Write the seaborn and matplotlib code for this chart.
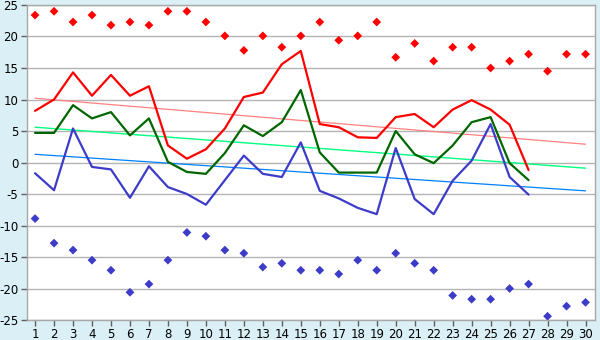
import numpy as np
import pandas as pd
import matplotlib
matplotlib.use("Agg")
import matplotlib.pyplot as plt
import seaborn as sns

# Daily temperatures (°C) for the month
days = list(range(1, 28))
t_max = [8.2, 10.0, 14.3, 10.6, 13.9, 10.6, 12.1, 2.7, 0.6, 2.1, 5.4, 10.4, 11.1, 15.6,
         17.7, 6.1, 5.6, 4.0, 3.9, 7.2, 7.7, 5.6, 8.4, 9.9, 8.4, 6.0, -1.2]
t_mean = [4.7, 4.7, 9.1, 7.0, 8.0, 4.3, 7.0, 0.1, -1.5, -1.8, 1.5, 5.9, 4.2, 6.4,
          11.5, 1.6, -1.6, -1.6, -1.6, 5.0, 1.3, -0.1, 2.7, 6.4, 7.2, -0.1, -2.8]
t_min = [-1.7, -4.4, 5.4, -0.7, -1.1, -5.6, -0.6, -3.9, -5.0, -6.7, -2.8, 1.1, -1.8, -2.3,
         3.2, -4.5, -5.7, -7.2, -8.2, 2.3, -5.8, -8.2, -2.9, 0.3, 6.1, -2.3, -5.1]

# Record extremes for each calendar day
rec_days = list(range(1, 31))
rec_max = [23.4, 24.0, 22.3, 23.4, 21.8, 22.3, 21.8, 24.0, 24.0, 22.3, 20.1, 17.8, 20.1, 18.3, 20.1,
           22.3, 19.4, 20.1, 22.3, 16.7, 18.9, 16.1, 18.3, 18.3, 15.0, 16.1, 17.2, 14.5, 17.2, 17.2]
rec_min = [-8.9, -12.8, -13.9, -15.5, -17.1, -20.6, -19.3, -15.5, -11.1, -11.7, -13.9, -14.4, -16.6, -16.0, -17.1,
           -17.1, -17.7, -15.5, -17.1, -14.4, -16.0, -17.1, -21.1, -21.7, -21.7, -20.0, -19.3, -24.4, -22.8, -22.2]

# Climate normals at the start and end of the month
norm_days = [1, 30]
norm_max = [10.2, 2.9]
norm_mean = [5.6, -0.9]
norm_min = [1.3, -4.5]

x_ticks = list(range(1, 31))
y_ticks = list(range(-25, 26, 5))

sns.set_theme(style="white")
plt.rcParams["font.family"] = ["DejaVu Sans"]
plt.rcParams["axes.unicode_minus"] = False

bg = "#daeff6"
fig = plt.figure(figsize=(6, 3.4), dpi=100, facecolor=bg)
ax = fig.add_axes([0.0445, 0.0588, 0.9472, 0.9265])
ax.set_facecolor("white")

daily = pd.DataFrame({"day": days, "max": t_max, "mean": t_mean, "min": t_min})
normals = pd.DataFrame({"day": norm_days, "max": norm_max, "mean": norm_mean, "min": norm_min})
records = pd.DataFrame({"day": rec_days, "rmax": rec_max, "rmin": rec_min})

# Normals (thin)
sns.lineplot(data=normals, x="day", y="max", color="#ff8080", lw=0.9, ax=ax)
sns.lineplot(data=normals, x="day", y="mean", color="#00ff80", lw=1.0, ax=ax)
sns.lineplot(data=normals, x="day", y="min", color="#0080ff", lw=0.9, ax=ax)

# Daily observations
sns.lineplot(data=daily, x="day", y="max", color="#ff0000", lw=1.6, ax=ax)
sns.lineplot(data=daily, x="day", y="mean", color="#006600", lw=1.6, ax=ax)
sns.lineplot(data=daily, x="day", y="min", color="#3c3cc8", lw=1.6, ax=ax)

# Records
sns.scatterplot(data=records, x="day", y="rmax", marker="D", s=20, color="#ff0000",
                edgecolor="none", ax=ax, zorder=5)
sns.scatterplot(data=records, x="day", y="rmin", marker="D", s=20, color="#3c3cc8",
                edgecolor="none", ax=ax, zorder=5)

ax.set_xlim(0.56, 30.5)
ax.set_ylim(-25, 25)
ax.set_xticks(x_ticks)
ax.set_xticklabels([str(d) for d in x_ticks])
ax.set_yticks(y_ticks)
ax.set_yticklabels([str(v) for v in y_ticks])
ax.set_xlabel("")
ax.set_ylabel("")

ax.grid(axis="y", color="#b4b4b4", lw=1.0)
ax.set_axisbelow(True)
for s in ax.spines.values():
    s.set_color("#a8a8a8")
    s.set_linewidth(1.0)
ax.tick_params(axis="both", direction="out", length=4, width=1, color="#606060",
               labelsize=8.5, labelcolor="#000000", pad=2)
ax.tick_params(axis="x", bottom=True)
ax.tick_params(axis="y", left=True)

fig.savefig("out.png", dpi=100, facecolor=bg)
